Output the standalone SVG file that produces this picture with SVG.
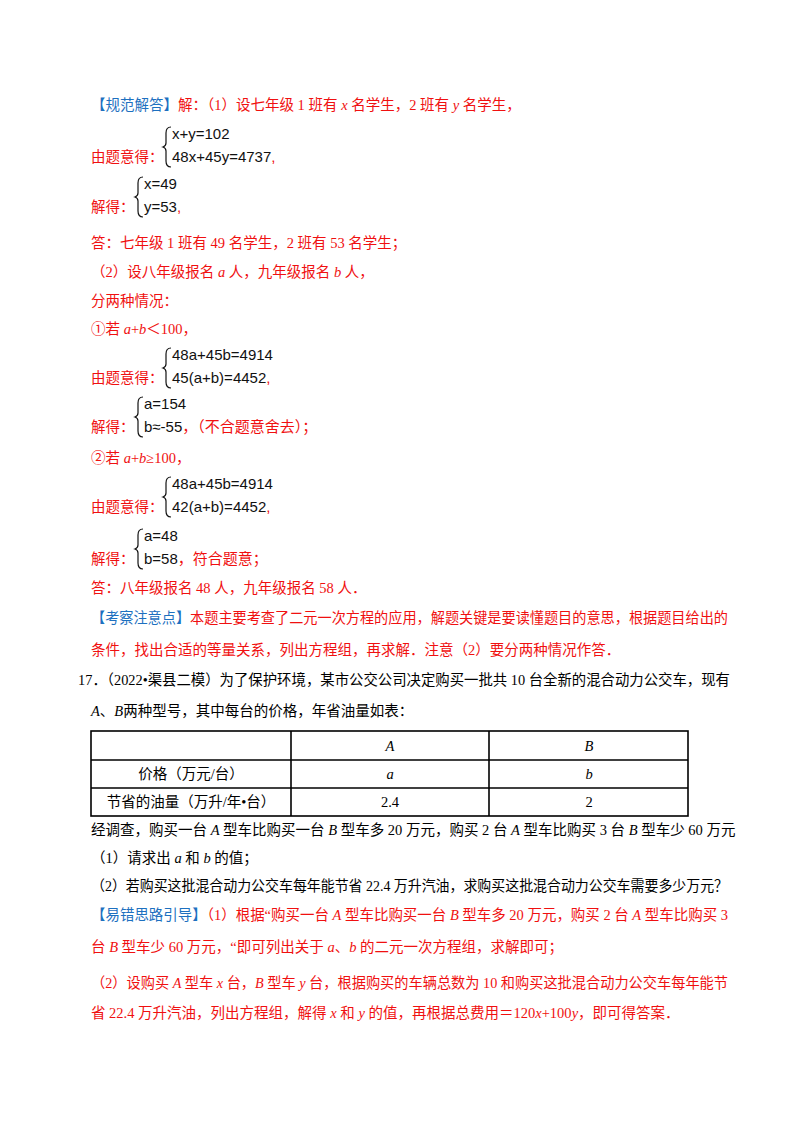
<svg xmlns="http://www.w3.org/2000/svg" width="800" height="1132" viewBox="0 0 800 1132">
<style>
text{font-family:"Liberation Serif","Noto Sans CJK SC",serif;font-size:14.5px;fill:#000}
.r{fill:#f01010}.b{fill:#1d70c0}
.m{font-family:"Liberation Sans","Noto Sans CJK SC",sans-serif;font-size:15px;fill:#111}
.br{fill:none;stroke:#111;stroke-width:1.2}
.t{fill:none;stroke:#000;stroke-width:1.6}
</style>
<rect width="800" height="1132" fill="#fff"/>
<text x="91" y="110"><tspan class="b">【规范解答】</tspan><tspan class="r">解：（1）设七年级 1 班有 <tspan font-style="italic">x</tspan> 名学生，2 班有 <tspan font-style="italic">y</tspan> 名学生，</tspan></text>
<text x="91" y="162" class="r">由题意得：</text>
<path class="br" d="M171,127 q-5,0 -5,6 v10 q0,3 -3,4 q3,1 3,4 v10 q0,6 5,6"/>
<text x="172" y="139" class="m">x+y=102</text>
<text x="172" y="162" class="m">48x+45y=4737<tspan class="r">,</tspan></text>
<text x="91" y="212" class="r">解得：</text>
<path class="br" d="M143,177 q-5,0 -5,6 v10 q0,3 -3,4 q3,1 3,4 v10 q0,6 5,6"/>
<text x="144" y="189" class="m">x=49</text>
<text x="144" y="212" class="m">y=53<tspan class="r">,</tspan></text>
<text x="91" y="248" class="r">答：七年级 1 班有 49 名学生，2 班有 53 名学生；</text>
<text x="91" y="277" class="r">（2）设八年级报名 <tspan font-style="italic">a</tspan> 人，九年级报名 <tspan font-style="italic">b</tspan> 人，</text>
<text x="91" y="306" class="r">分两种情况：</text>
<text x="91" y="334" class="r">①若 <tspan font-style="italic">a</tspan>+<tspan font-style="italic">b</tspan>＜100，</text>
<text x="91" y="383" class="r">由题意得：</text>
<path class="br" d="M171,348 q-5,0 -5,6 v10 q0,3 -3,4 q3,1 3,4 v10 q0,6 5,6"/>
<text x="172" y="360" class="m">48a+45b=4914</text>
<text x="172" y="383" class="m">45(a+b)=4452<tspan class="r">,</tspan></text>
<text x="91" y="432" class="r">解得：</text>
<path class="br" d="M143,397 q-5,0 -5,6 v10 q0,3 -3,4 q3,1 3,4 v10 q0,6 5,6"/>
<text x="144" y="409" class="m">a=154</text>
<text x="144" y="432" class="m">b≈-55<tspan class="r">，（不合题意舍去）；</tspan></text>
<text x="91" y="463" class="r">②若 <tspan font-style="italic">a</tspan>+<tspan font-style="italic">b</tspan>≥100，</text>
<text x="91" y="512" class="r">由题意得：</text>
<path class="br" d="M171,477 q-5,0 -5,6 v10 q0,3 -3,4 q3,1 3,4 v10 q0,6 5,6"/>
<text x="172" y="489" class="m">48a+45b=4914</text>
<text x="172" y="512" class="m">42(a+b)=4452<tspan class="r">,</tspan></text>
<text x="91" y="564" class="r">解得：</text>
<path class="br" d="M143,529 q-5,0 -5,6 v10 q0,3 -3,4 q3,1 3,4 v10 q0,6 5,6"/>
<text x="144" y="541" class="m">a=48</text>
<text x="144" y="564" class="m">b=58<tspan class="r">，符合题意；</tspan></text>
<text x="91" y="593" class="r">答：八年级报名 48 人，九年级报名 58 人．</text>
<text x="91" y="623" textLength="637" lengthAdjust="spacingAndGlyphs"><tspan class="b">【考察注意点】</tspan><tspan class="r">本题主要考查了二元一次方程的应用，解题关键是要读懂题目的意思，根据题目给出的</tspan></text>
<text x="91" y="655" class="r">条件，找出合适的等量关系，列出方程组，再求解．注意（2）要分两种情况作答．</text>
<text x="78" y="685" textLength="652" lengthAdjust="spacingAndGlyphs">17．（2022•渠县二模）为了保护环境，某市公交公司决定购买一批共 10 台全新的混合动力公交车，现有</text>
<text x="91" y="716"><tspan font-style="italic">A</tspan>、<tspan font-style="italic">B</tspan>两种型号，其中每台的价格，年省油量如表：</text>
<g class="t">
<rect x="91" y="731" width="597" height="85"/>
<line x1="91" y1="760" x2="688" y2="760"/>
<line x1="91" y1="788" x2="688" y2="788"/>
<line x1="291" y1="731" x2="291" y2="816"/>
<line x1="489" y1="731" x2="489" y2="816"/>
</g>
<g text-anchor="middle">
<text x="390" y="751" font-style="italic">A</text>
<text x="589" y="751" font-style="italic">B</text>
<text x="191" y="779">价格（万元/台）</text>
<text x="390" y="779" font-style="italic">a</text>
<text x="589" y="779" font-style="italic">b</text>
<text x="191" y="807">节省的油量（万升/年•台）</text>
<text x="390" y="807">2.4</text>
<text x="589" y="807">2</text>
</g>
<text x="91" y="835">经调查，购买一台 <tspan font-style="italic">A</tspan> 型车比购买一台 <tspan font-style="italic">B</tspan> 型车多 20 万元，购买 2 台 <tspan font-style="italic">A</tspan> 型车比购买 3 台 <tspan font-style="italic">B</tspan> 型车少 60 万元</text>
<text x="91" y="863">（1）请求出 <tspan font-style="italic">a</tspan> 和 <tspan font-style="italic">b</tspan> 的值；</text>
<text x="91" y="891" textLength="637" lengthAdjust="spacingAndGlyphs">（2）若购买这批混合动力公交车每年能节省 22.4 万升汽油，求购买这批混合动力公交车需要多少万元？</text>
<text x="91" y="920" textLength="637" lengthAdjust="spacingAndGlyphs"><tspan class="b">【易错思路引导】</tspan><tspan class="r">（1）根据“购买一台 <tspan font-style="italic">A</tspan> 型车比购买一台 <tspan font-style="italic">B</tspan> 型车多 20 万元，购买 2 台 <tspan font-style="italic">A</tspan> 型车比购买 3</tspan></text>
<text x="91" y="952" class="r">台 <tspan font-style="italic">B</tspan> 型车少 60 万元，“即可列出关于 <tspan font-style="italic">a</tspan>、<tspan font-style="italic">b</tspan> 的二元一次方程组，求解即可；</text>
<text x="91" y="988" class="r" textLength="637" lengthAdjust="spacingAndGlyphs">（2）设购买 <tspan font-style="italic">A</tspan> 型车 <tspan font-style="italic">x</tspan> 台，<tspan font-style="italic">B</tspan> 型车 <tspan font-style="italic">y</tspan> 台，根据购买的车辆总数为 10 和购买这批混合动力公交车每年能节</text>
<text x="91" y="1018" class="r">省 22.4 万升汽油，列出方程组，解得 <tspan font-style="italic">x</tspan> 和 <tspan font-style="italic">y</tspan> 的值，再根据总费用＝120<tspan font-style="italic">x</tspan>+100<tspan font-style="italic">y</tspan>，即可得答案．</text>
</svg>
